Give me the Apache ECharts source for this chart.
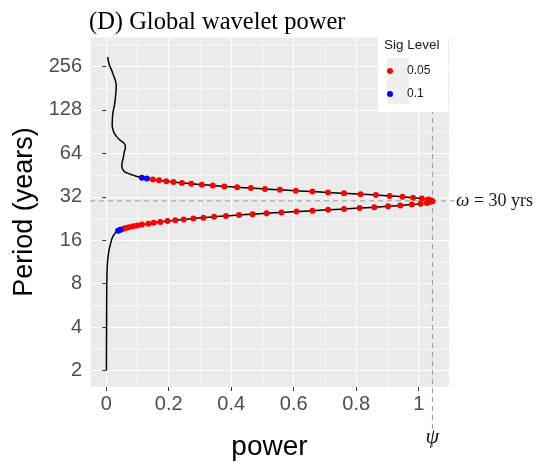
<!DOCTYPE html>
<html><head><meta charset="utf-8">
<script src="https://cdn.jsdelivr.net/npm/echarts@6/dist/echarts.min.js"></script>
<style>html,body{margin:0;padding:0;background:#fff}#c{width:560px;height:472px}</style>
</head><body><div id="c"></div>
<script>
// Period (years), sampled on the wavelet's log2 grid
const period = [
  2.000, 2.639, 3.732, 5.657, 7.464, 9.190, 10.556, 11.794, 12.996, 13.929,
  14.929, 15.780, 16.450, 17.148, 17.630, 17.877, 18.126, 18.379,
  18.636, 18.896, 19.160, 19.427, 19.698, 19.973, 20.252, 20.535, 20.821, 21.112,
  21.407, 21.706, 22.009, 22.316, 22.627, 22.943, 23.264, 23.588, 23.918, 24.251,
  24.590, 24.933, 25.281, 25.634, 25.992, 26.355, 26.723, 27.096, 27.474, 27.858,
  28.247, 28.641, 29.041, 29.446, 29.857, 30.274, 30.696, 31.125, 31.559, 32.000,
  32.447, 32.900, 33.359, 33.825, 34.297, 34.775, 35.261, 35.753, 36.252, 36.758,
  37.271, 37.792, 38.319, 38.854, 39.397, 39.947, 40.504, 41.070, 41.643, 42.224,
  42.814, 43.411,
  44.017, 44.632, 45.255, 45.887, 46.527, 47.177, 47.835, 49.180, 50.563, 52.710,
  55.715, 58.892, 62.250, 65.799, 69.551, 72.505, 75.583, 78.793, 83.286, 88.035,
  94.353, 101.125, 108.383, 114.563, 124.500, 137.187, 153.277, 171.255, 188.706, 205.074,
  222.861, 238.856, 259.574, 278.204, 298.172
];
// Global wavelet power at each period
const power = [
  0.0006, 0.0007, 0.0010, 0.0013, 0.0016, 0.0022, 0.0032, 0.0048, 0.0073, 0.0096,
  0.013, 0.016, 0.0185, 0.022, 0.026, 0.028, 0.031, 0.034,
  0.038, 0.045, 0.053, 0.062, 0.073, 0.086, 0.099, 0.114, 0.135, 0.152,
  0.173, 0.196, 0.221, 0.248, 0.279, 0.311, 0.345, 0.383, 0.425, 0.468,
  0.513, 0.561, 0.609, 0.660, 0.710, 0.761, 0.811, 0.858, 0.902, 0.941,
  0.978, 1.006, 1.026, 1.035, 1.044, 1.040, 1.030, 1.010, 0.982, 0.948,
  0.907, 0.863, 0.814, 0.761, 0.710, 0.660, 0.607, 0.556, 0.508, 0.463,
  0.419, 0.378, 0.341, 0.306, 0.272, 0.242, 0.215, 0.192, 0.169, 0.149,
  0.130, 0.114,
  0.102, 0.093, 0.085, 0.077, 0.070, 0.063, 0.058, 0.054, 0.051, 0.050,
  0.051, 0.054, 0.056, 0.058, 0.061, 0.061, 0.056, 0.045, 0.034, 0.026,
  0.021, 0.019, 0.0195, 0.020, 0.022, 0.026, 0.029, 0.031, 0.032, 0.029,
  0.023, 0.018, 0.011, 0.007, 0.005
];
// Significance level at each period ('' = not significant)
const sigLevel = [
  '', '', '', '', '', '', '', '', '', '',
  '', '', '', '', '', '', '', '',
  '0.1', '0.1', '0.05', '0.05', '0.05', '0.05', '0.05', '0.05', '0.05', '0.05',
  '0.05', '0.05', '0.05', '0.05', '0.05', '0.05', '0.05', '0.05', '0.05', '0.05',
  '0.05', '0.05', '0.05', '0.05', '0.05', '0.05', '0.05', '0.05', '0.05', '0.05',
  '0.05', '0.05', '0.05', '0.05', '0.05', '0.05', '0.05', '0.05', '0.05', '0.05',
  '0.05', '0.05', '0.05', '0.05', '0.05', '0.05', '0.05', '0.05', '0.05', '0.05',
  '0.05', '0.05', '0.05', '0.05', '0.05', '0.05', '0.05', '0.05', '0.05', '0.05',
  '0.1', '0.1',
  '', '', '', '', '', '', '', '', '', '',
  '', '', '', '', '', '', '', '', '', '',
  '', '', '', '', '', '', '', '', '', '',
  '', '', '', '', ''
];
const sigNames = ['0.05', '0.1'];
const sigColors = ['#FF0000', '#0000FF'];
const xTicks = [0, 0.2, 0.4, 0.6, 0.8, 1];
const yTicks = [2, 4, 8, 16, 32, 64, 128, 256];
const peakPower = 1.044;
const omegaPeriod = 30;

const xMin = -0.052, xMax = 1.097;
const yMinExp = 0.62, yMaxExp = 8.68;
const yMin = Math.pow(2, yMinExp), yMax = Math.pow(2, yMaxExp);

const lineData = period.map((p, i) => [power[i], p]);
const sigSeries = sigNames.map((nm, k) => ({
  name: nm,
  type: 'scatter',
  symbol: 'circle',
  symbolSize: 6,
  itemStyle: { color: sigColors[k], opacity: 1 },
  z: 3,
  data: period.map((p, i) => [power[i], p, sigLevel[i]]).filter(d => d[2] === nm).map(d => [d[0], d[1]])
}));

const sans = 'Liberation Sans, Arial, sans-serif';
const serif = 'Liberation Serif, Times New Roman, serif';

const option = {
  animation: false,
  backgroundColor: '#ffffff',
  title: {
    text: '(D) Global wavelet power',
    left: 84, top: 5,
    textStyle: { fontFamily: serif, fontSize: 24.5, fontWeight: 'normal', color: '#000' }
  },
  grid: {
    left: 90, top: 37, right: 111, bottom: 85,
    show: true, backgroundColor: '#EBEBEB', borderWidth: 0,
    containLabel: false, outerBoundsMode: 'none'
  },
  legend: {
    data: sigNames,
    orient: 'vertical',
    left: 387, top: 65,
    padding: 0,
    itemWidth: 22, itemHeight: 6,
    itemGap: 11,
    icon: 'circle',
    symbolKeepAspect: true,
    z: 8,
    itemStyle: { opacity: 1 },
    textStyle: { fontFamily: sans, fontSize: 12, color: '#1a1a1a', padding: [0, 0, 0, 1] }
  },
  xAxis: [{
    type: 'value', min: xMin, max: xMax,
    name: 'power', nameLocation: 'middle', nameGap: 46,
    nameTextStyle: { fontFamily: sans, fontSize: 28, color: '#000' },
    axisLine: { show: false },
    axisTick: { show: true, length: 4, lineStyle: { color: '#333', width: 1 }, customValues: xTicks },
    axisLabel: { show: true, margin: 7, fontFamily: sans, fontSize: 20, color: '#4D4D4D',
      customValues: xTicks, showMinLabel: true, showMaxLabel: true,
      formatter: v => String(Math.round(v * 10) / 10) },
    splitLine: { show: true, lineStyle: { color: '#ffffff', width: 1.2 } }
  }, {
    type: 'value', min: xMin, max: xMax, splitNumber: 11, position: 'top',
    axisLine: { show: false }, axisTick: { show: false }, axisLabel: { show: false },
    splitLine: { show: true, lineStyle: { color: '#ffffff', width: 0.6 } }
  }],
  yAxis: [{
    type: 'log', logBase: 2, min: yMin, max: yMax,
    name: 'Period (years)', nameLocation: 'middle', nameGap: 48, nameRotate: 90,
    nameTextStyle: { fontFamily: sans, fontSize: 27, color: '#000' },
    axisLine: { show: false },
    axisTick: { show: true, length: 4, lineStyle: { color: '#333', width: 1 }, customValues: yTicks },
    axisLabel: { show: true, margin: 8, fontFamily: sans, fontSize: 20, color: '#4D4D4D',
      customValues: yTicks, showMinLabel: true, showMaxLabel: true,
      formatter: v => String(Math.round(v)) },
    splitLine: { show: true, lineStyle: { color: '#ffffff', width: 1.2 } }
  }, {
    type: 'value', min: yMinExp, max: yMaxExp, splitNumber: 16, position: 'right',
    axisLine: { show: false }, axisTick: { show: false }, axisLabel: { show: false },
    splitLine: { show: true, lineStyle: { color: '#ffffff', width: 0.6 } }
  }],
  series: [{
    name: 'power',
    type: 'line',
    data: lineData,
    showSymbol: false,
    symbol: 'none',
    smooth: 0.3,
    lineStyle: { color: '#000', width: 1.5 },
    z: 2
  }].concat(sigSeries)
};

const chart = echarts.init(document.getElementById('c'), null, { renderer: 'canvas' });
chart.setOption(option);

const pX = chart.convertToPixel({ xAxisIndex: 0 }, peakPower);
const oY = chart.convertToPixel({ yAxisIndex: 0 }, omegaPeriod);
const pTop = chart.convertToPixel({ yAxisIndex: 0 }, yMax);
const pBottom = chart.convertToPixel({ yAxisIndex: 0 }, yMin);
const pLeft = chart.convertToPixel({ xAxisIndex: 0 }, xMin);
const pRight = chart.convertToPixel({ xAxisIndex: 0 }, xMax);
const dash = { stroke: '#9a9a9a', lineWidth: 1, lineDash: [5, 4] };

chart.setOption({
  graphic: [
    { type: 'line', z: 1, silent: true, shape: { x1: pX, y1: pTop, x2: pX, y2: pBottom + 63 }, style: dash },
    { type: 'line', z: 1, silent: true, shape: { x1: pLeft, y1: oY, x2: pRight + 6, y2: oY }, style: dash },
    { type: 'text', z: 6, silent: true, x: pRight + 7, y: oY,
      style: { text: '{w|ω} = 30 yrs', fontFamily: serif, fontSize: 18, fill: '#1a1a1a', verticalAlign: 'middle', align: 'left',
        rich: { w: { fontFamily: serif, fontStyle: 'italic', fontSize: 19, fill: '#1a1a1a' } } } },
    { type: 'text', z: 6, silent: true, x: pX, y: pBottom + 50,
      style: { text: 'ψ', fontFamily: serif, fontStyle: 'italic', fontSize: 22, fill: '#1a1a1a', align: 'center', verticalAlign: 'middle' } },
    { type: 'rect', z: 5, silent: true, shape: { x: 378, y: 30, width: 70, height: 82 }, style: { fill: '#ffffff' } },
    { type: 'rect', z: 6, silent: true, shape: { x: 387, y: 58, width: 22, height: 46 }, style: { fill: '#F0F0F0' } },
    { type: 'text', z: 7, silent: true, x: 384, y: 45,
      style: { text: 'Sig Level', fontFamily: sans, fontSize: 13.5, fill: '#1a1a1a', verticalAlign: 'middle', align: 'left' } }
  ]
});
</script></body></html>
